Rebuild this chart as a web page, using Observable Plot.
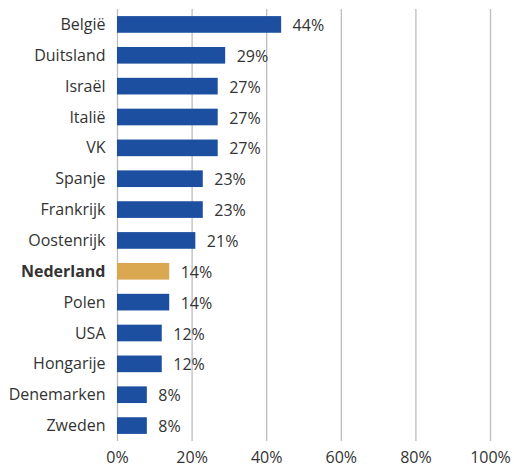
<!DOCTYPE html>
<html><head><meta charset="utf-8">
<script src="https://cdn.jsdelivr.net/npm/d3@7"></script>
<script src="https://cdn.jsdelivr.net/npm/@observablehq/plot@0.6"></script>
<style>body{margin:0;background:#fff;} svg{display:block;}</style>
</head><body><div id="chart"></div>
<script>
const countries = ["België","Duitsland","Israël","Italië","VK","Spanje","Frankrijk","Oostenrijk","Nederland","Polen","USA","Hongarije","Denemarken","Zweden"];
const values = [44,29,27,27,27,23,23,21,14,14,12,12,8,8];
const highlight = "Nederland";
const xTicks = [0,20,40,60,80,100];

const data = countries.map((c,i)=>({country:c, value:values[i]}));
const font = "'Open Sans', sans-serif";
const fs = 16;
const chart = Plot.plot({
  width: 514, height: 468,
  marginLeft: 117, marginRight: 24, marginTop: 9, marginBottom: 27,
  style: {fontFamily: font, fontSize: fs + "px", color: "#333", background: "#fff"},
  x: {domain:[0,100], ticks: xTicks, tickFormat: d=>d+"%", tickSize: 0, tickPadding: 10, label: null},
  y: {domain: countries, paddingInner: 0.46, paddingOuter: 0.23, round: false, tickSize: 0, tickPadding: 12, label: null},
  marks: [
    Plot.gridX(xTicks, {stroke:"#bdbdbd", strokeOpacity:1, strokeWidth:1.3}),
    Plot.barX(data, {x:"value", y:"country", fill: d=>d.country===highlight?"#dba852":"#1c4fa0"}),
    Plot.text(data, {x:"value", y:"country", text:d=>d.value+"%", textAnchor:"start", dx:11, dy:1, fill:"#333", fontSize:fs}),
    Plot.axisX({ticks: xTicks, tickFormat:d=>d+"%", tickSize:0, tickPadding:10, fontSize:fs, label:null}),
    Plot.axisY({tickSize:0, tickPadding:12, fontSize:fs, label:null})
  ]
});
d3.select(chart).selectAll("text").filter(function(){return this.textContent===highlight;}).attr("font-weight","bold");
document.getElementById("chart").appendChild(chart);
</script></body></html>
